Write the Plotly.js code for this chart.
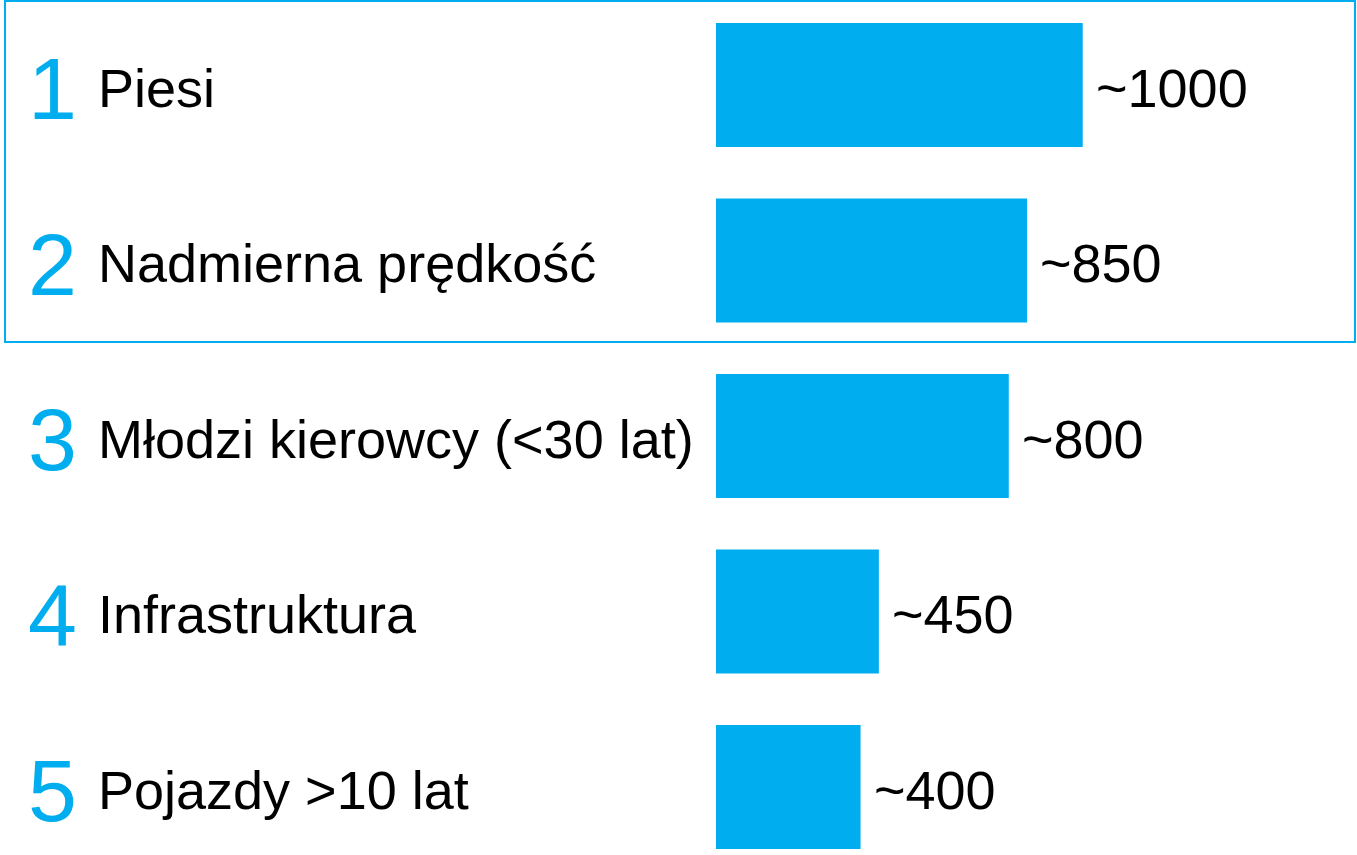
<!DOCTYPE html>
<html>
<head>
<meta charset="utf-8">
<script src="https://cdn.plot.ly/plotly-3.0.1.min.js"></script>
<style>
    html, body { margin: 0; padding: 0; background: #fff; }
    #plot { width: 1357px; height: 855px; }
</style>
</head>
<body>
<div id="plot"></div>
<script>
var ranks = ['1', '2', '3', '4', '5'];
var categories = ['Piesi', 'Nadmierna prędkość', 'Młodzi kierowcy (<30 lat)', 'Infrastruktura', 'Pojazdy >10 lat'];
var values = [1002, 850, 800, 445, 395];
var valueLabels = ['~1000', '~850', '~800', '~450', '~400'];

(function (document, window) {

    var W = 1357;
    var H = 855;
    var blue = '#00AEEF';
    var fontFamily = '"Liberation Sans", Arial, sans-serif';

    document.addEventListener("DOMContentLoaded", function () {

        var trace = {
            type: 'bar',
            orientation: 'h',
            x: values,
            y: categories,
            width: 0.707,
            marker: { color: blue, line: { width: 0 } },
            hoverinfo: 'skip'
        };

        var annotations = [];
        for (var i = 0; i < categories.length; i++) {
            // numer w kolorze
            annotations.push({
                xref: 'paper', yref: 'y',
                x: 52 / W, y: categories[i],
                xanchor: 'center', yanchor: 'middle', yshift: -4,
                text: ranks[i], showarrow: false,
                font: { family: fontFamily, size: 88, color: blue }
            });
            // nazwa
            annotations.push({
                xref: 'paper', yref: 'y',
                x: 96 / W, y: categories[i],
                xanchor: 'left', yanchor: 'middle', yshift: -3,
                text: categories[i].replace('<', '&lt;').replace('>', '&gt;'), showarrow: false,
                font: { family: fontFamily, size: 54, color: '#000' }
            });
            // wartosc
            annotations.push({
                xref: 'x', yref: 'y',
                x: values[i], y: categories[i],
                xanchor: 'left', yanchor: 'middle', xshift: 11, yshift: -3,
                text: valueLabels[i], showarrow: false,
                font: { family: fontFamily, size: 54, color: '#000' }
            });
        }

        var layout = {
            width: W,
            height: H,
            margin: { l: 0, r: 0, t: 0, b: 0 },
            paper_bgcolor: '#fff',
            plot_bgcolor: '#fff',
            showlegend: false,
            font: { family: fontFamily },
            xaxis: {
                domain: [716 / W, 1],
                range: [0, (W - 716) / 0.366],
                showgrid: false, zeroline: false, showticklabels: false, showline: false
            },
            yaxis: {
                type: 'category',
                categoryorder: 'array',
                categoryarray: categories,
                range: [4.3875, -0.4843],
                showgrid: false, zeroline: false, showticklabels: false, showline: false
            },
            shapes: [{
                type: 'rect',
                xref: 'paper', yref: 'paper',
                x0: 5 / W, x1: 1355 / W,
                y0: 1 - 342 / H, y1: 1 - 1 / H,
                line: { color: blue, width: 2 },
                fillcolor: 'rgba(0,0,0,0)'
            }],
            annotations: annotations
        };

        Plotly.newPlot('plot', [trace], layout, { displayModeBar: false, staticPlot: true });
    });

})(document, window);
</script>
</body>
</html>
